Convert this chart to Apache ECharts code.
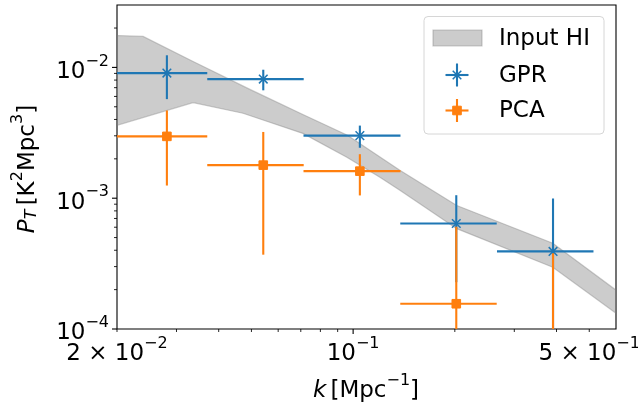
<!DOCTYPE html>
<html><head><meta charset="utf-8">
<script src="https://cdn.jsdelivr.net/npm/echarts@6/dist/echarts.min.js"></script>
<style>html,body{margin:0;padding:0;background:#fff}#c{width:638px;height:407px}</style>
</head><body><div id="c"></div>
<script>
// ---- data ----
const kCenters   = [0.0281, 0.0542, 0.1047, 0.2020, 0.3906];
const kHalfWidth = [0.0089, 0.0172, 0.0334, 0.0641, 0.124];
const gprValues  = [0.00905, 0.00814, 0.00301, 0.000641, 0.000392];
const gprErrors  = [0.00333, 0.00146, 0.00058, 0.000413, 0.000603];
const pcaValues  = [0.00297, 0.00179, 0.00161, 0.000156, 0.00006];
const pcaErrors  = [0.00172, 0.00142, 0.00056, 0.00045, 0.00032];
const bandUpperK = [0.02, 0.0239, 0.0336, 0.0495, 0.0710, 0.0962, 0.1375, 0.2027, 0.390, 0.599];
const bandUpper  = [0.01753, 0.01726, 0.01111, 0.00679, 0.00437, 0.00303, 0.001636, 0.000880, 0.000453, 0.000199];
const bandLowerK = [0.02, 0.0336, 0.0472, 0.0710, 0.0958, 0.1200, 0.1375, 0.2027, 0.390, 0.599];
const bandLower  = [0.00361, 0.00538, 0.00446, 0.00313, 0.002056, 0.001445, 0.001151, 0.000585, 0.000297, 0.0001325];
const xTicks = [0.02, 0.03, 0.04, 0.05, 0.06, 0.07, 0.08, 0.09, 0.1, 0.2, 0.3, 0.4, 0.5];
const xLabelValues = [0.02, 0.1, 0.5];
const xLabelMain = ['2 × 10', '10', '5 × 10'];
const xLabelSup  = ['−2', '−1', '−1'];
const yTicks = [0.0001, 0.0002, 0.0003, 0.0004, 0.0005, 0.0006, 0.0007, 0.0008, 0.0009,
                0.001, 0.002, 0.003, 0.004, 0.005, 0.006, 0.007, 0.008, 0.009, 0.01, 0.02];
const yLabelValues = [0.0001, 0.001, 0.01];
const yLabelMain = ['10', '10', '10'];
const yLabelSup  = ['−4', '−3', '−2'];
const X_MIN = 0.02, X_MAX = 0.6, Y_MIN = 1e-4, Y_MAX = 0.03;

const BLUE = '#1f77b4', ORANGE = '#ff7f0e';
const FONT = 'DejaVu Sans';
const rich = {
  m: {fontFamily: FONT, fontSize: 23, lineHeight: 30, verticalAlign: 'bottom', fill: '#000', color: '#000'},
  s: {fontFamily: FONT, fontSize: 16, lineHeight: 16, verticalAlign: 'top', fill: '#000', color: '#000'},
  i: {fontFamily: FONT, fontSize: 23, lineHeight: 30, verticalAlign: 'bottom', fontStyle: 'italic', fill: '#000', color: '#000'},
  b: {fontFamily: FONT, fontSize: 16, lineHeight: 16, verticalAlign: 'bottom', fontStyle: 'italic', fill: '#000', color: '#000'},
  sp: {fontFamily: FONT, fontSize: 13, lineHeight: 13, verticalAlign: 'bottom'}
};
const isMajor = v => Math.abs(Math.log10(v) - Math.round(Math.log10(v))) < 1e-9;

function errorSeries(values, errors, color, marker) {
  return {
    type: 'custom', coordinateSystem: 'cartesian2d', clip: true,
    encode: {x: 0, y: 1},
    data: kCenters.map((k, i) => [k, values[i], kHalfWidth[i], errors[i]]),
    renderItem: function (params, api) {
      const k = api.value(0), v = api.value(1), ke = api.value(2), ve = api.value(3);
      const l = api.coord([k - ke, v]), r = api.coord([k + ke, v]);
      const t = api.coord([k, v + ve]), b = api.coord([k, Math.max(v - ve, 1e-8)]);
      const c = api.coord([k, v]);
      const st = {stroke: color, lineWidth: 2.1, fill: null};
      const ch = [
        {type: 'line', shape: {x1: l[0], y1: l[1], x2: r[0], y2: r[1]}, style: st},
        {type: 'line', shape: {x1: t[0], y1: t[1], x2: b[0], y2: b[1]}, style: st}
      ];
      if (marker === 'x') {
        const h = 4.3;
        ch.push({type: 'line', shape: {x1: c[0]-h, y1: c[1]-h, x2: c[0]+h, y2: c[1]+h}, style: {stroke: color, lineWidth: 1.5}});
        ch.push({type: 'line', shape: {x1: c[0]-h, y1: c[1]+h, x2: c[0]+h, y2: c[1]-h}, style: {stroke: color, lineWidth: 1.5}});
      } else {
        const h = 4.3;
        ch.push({type: 'rect', shape: {x: c[0]-h, y: c[1]-h, width: 2*h, height: 2*h}, style: {fill: color, stroke: color, lineWidth: 1}});
      }
      return {type: 'group', children: ch};
    }
  };
}

const chart = echarts.init(document.getElementById('c'), null, {renderer: 'canvas'});
chart.setOption({
  animation: false,
  backgroundColor: '#fff',
  grid: {left: 117, top: 5, width: 499, height: 324, show: true, borderColor: '#000', borderWidth: 1.1, backgroundColor: 'transparent'},
  xAxis: {type: 'log', logBase: 10, min: X_MIN, max: X_MAX,
    axisLine: {show: false}, axisTick: {show: false}, axisLabel: {show: false}, splitLine: {show: false}, minorTick: {show: false}},
  yAxis: {type: 'log', logBase: 10, min: Y_MIN, max: Y_MAX,
    axisLine: {show: false}, axisTick: {show: false}, axisLabel: {show: false}, splitLine: {show: false}, minorTick: {show: false}},
  series: [
    { // Input HI band
      type: 'custom', coordinateSystem: 'cartesian2d', clip: true, encode: {x: 0, y: 1},
      data: [[bandUpperK[0], bandUpper[0]]],
      renderItem: function (params, api) {
        const pts = [];
        bandUpperK.forEach((k, i) => pts.push(api.coord([k, bandUpper[i]])));
        for (let i = bandLowerK.length - 1; i >= 0; i--) pts.push(api.coord([bandLowerK[i], bandLower[i]]));
        return {type: 'polygon', shape: {points: pts},
          style: {fill: 'rgba(128,128,128,0.4)', stroke: 'rgba(128,128,128,0.4)', lineWidth: 1.2}};
      }
    },
    errorSeries(gprValues, gprErrors, BLUE, 'x'),
    errorSeries(pcaValues, pcaErrors, ORANGE, 's'),
    { // x ticks & labels
      type: 'custom', coordinateSystem: 'cartesian2d', clip: false, encode: {x: 0, y: 1}, silent: true,
      data: xTicks.map(v => [v, Y_MIN]),
      renderItem: function (params, api) {
        const v = api.value(0);
        const p = api.coord([v, Y_MIN]);
        const major = isMajor(v);
        const len = major ? 5 : 3;
        const ch = [{type: 'line', shape: {x1: p[0], y1: p[1], x2: p[0], y2: p[1] + len},
          style: {stroke: '#000', lineWidth: major ? 1.1 : 0.85}}];
        const li = xLabelValues.findIndex(x => Math.abs(x - v) < 1e-12);
        if (li >= 0) {
          ch.push({type: 'text', x: p[0], y: p[1] + 7,
            style: {text: '{m|' + xLabelMain[li] + '}{s|' + xLabelSup[li] + '}', rich: rich, align: 'center', verticalAlign: 'top'}});
        }
        return {type: 'group', children: ch};
      }
    },
    { // y ticks & labels
      type: 'custom', coordinateSystem: 'cartesian2d', clip: false, encode: {x: 0, y: 1}, silent: true,
      data: yTicks.map(v => [X_MIN, v]),
      renderItem: function (params, api) {
        const v = api.value(1);
        const p = api.coord([X_MIN, v]);
        const major = isMajor(v);
        const len = major ? 5 : 3;
        const ch = [{type: 'line', shape: {x1: p[0] - len, y1: p[1], x2: p[0], y2: p[1]},
          style: {stroke: '#000', lineWidth: major ? 1.1 : 0.85}}];
        const li = yLabelValues.findIndex(y => Math.abs(y - v) / y < 1e-9);
        if (li >= 0) {
          ch.push({type: 'text', x: p[0] - 8, y: p[1] + 1,
            style: {text: '{m|' + yLabelMain[li] + '}{s|' + yLabelSup[li] + '}', rich: rich, align: 'right', verticalAlign: 'middle'}});
        }
        return {type: 'group', children: ch};
      }
    }
  ],
  graphic: [
    {type: 'text', x: 366, y: 388,
      style: {text: '{i|k}{sp| }{m|[Mpc}{s|−1}{m|]}', rich: rich, align: 'center', verticalAlign: 'middle'}},
    {type: 'text', x: 25, y: 169, rotation: Math.PI / 2,
      style: {text: '{i|P}{b|T}{sp| }{m|[K}{s|2}{m|Mpc}{s|3}{m|]}', rich: rich, align: 'center', verticalAlign: 'middle'}},
    // legend
    {type: 'rect', shape: {x: 424, y: 16.5, width: 180, height: 117.5, r: 4},
      style: {fill: 'rgba(255,255,255,0.8)', stroke: '#d6d6d6', lineWidth: 1}},
    {type: 'rect', shape: {x: 433, y: 30, width: 49, height: 16},
      style: {fill: 'rgba(128,128,128,0.4)', stroke: 'rgba(128,128,128,0.4)', lineWidth: 1.2}},
    {type: 'text', x: 499, y: 39, style: {text: 'Input HI', fontFamily: FONT, fontSize: 23, fill: '#000', verticalAlign: 'middle'}},
    {type: 'line', shape: {x1: 445.5, y1: 75, x2: 468.5, y2: 75}, style: {stroke: BLUE, lineWidth: 2.1}},
    {type: 'line', shape: {x1: 457, y1: 63.5, x2: 457, y2: 86.5}, style: {stroke: BLUE, lineWidth: 2.1}},
    {type: 'line', shape: {x1: 452.7, y1: 70.7, x2: 461.3, y2: 79.3}, style: {stroke: BLUE, lineWidth: 1.5}},
    {type: 'line', shape: {x1: 452.7, y1: 79.3, x2: 461.3, y2: 70.7}, style: {stroke: BLUE, lineWidth: 1.5}},
    {type: 'text', x: 499, y: 76, style: {text: 'GPR', fontFamily: FONT, fontSize: 23, fill: '#000', verticalAlign: 'middle'}},
    {type: 'line', shape: {x1: 445.5, y1: 110.5, x2: 468.5, y2: 110.5}, style: {stroke: ORANGE, lineWidth: 2.1}},
    {type: 'line', shape: {x1: 457, y1: 99, x2: 457, y2: 122}, style: {stroke: ORANGE, lineWidth: 2.1}},
    {type: 'rect', shape: {x: 452.7, y: 106.2, width: 8.6, height: 8.6}, style: {fill: ORANGE, stroke: ORANGE, lineWidth: 1}},
    {type: 'text', x: 499, y: 111.5, style: {text: 'PCA', fontFamily: FONT, fontSize: 23, fill: '#000', verticalAlign: 'middle'}}
  ]
});
</script></body></html>
